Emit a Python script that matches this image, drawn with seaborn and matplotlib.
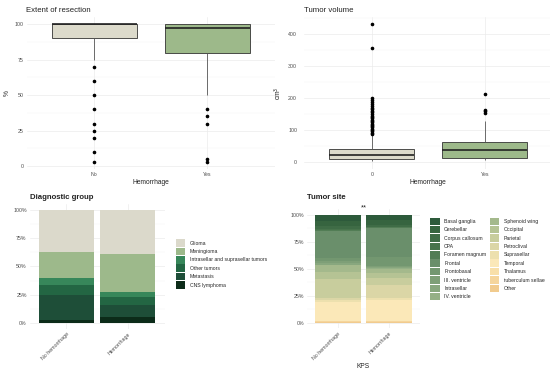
import numpy as np
import pandas as pd
import matplotlib
matplotlib.use("Agg")
import matplotlib.pyplot as plt
import seaborn as sns
from matplotlib.patches import Patch

# ---------------- data ----------------
hem_levels = ["No", "Yes"]
extent_no = [3, 10, 20, 25, 30, 40, 50, 60, 70, 75, 80, 85] + [90] * 10 + [95] * 5 + [100] * 33
extent_yes = [3, 5, 30, 35, 40, 50, 60, 70, 75, 80, 80, 85, 88, 90, 92, 95, 95, 96, 97, 97,
              97, 98, 98, 99, 99] + [100] * 15

vol_levels = ["0", "Yes"]
volume_no = [2, 3, 3, 4, 4, 4, 5, 5, 5, 6, 6, 6, 6, 7, 7, 7, 7, 8, 8, 8, 8, 8, 9, 9, 9, 9, 9,
             9, 9.2, 9.2, 9.3,
             9.5, 10, 10, 11, 11, 12, 12, 12, 13, 13, 14, 14, 14, 15, 15, 16, 16, 16, 17, 17,
             18, 18, 19, 19, 19, 20, 20, 21, 21, 21.8,
             22, 22, 23, 23, 24, 24, 25, 25, 26, 26, 27, 27, 28, 28, 29, 30, 30, 31, 32, 32,
             33, 34, 34, 35, 36, 37, 38, 39, 40, 40.4,
             50, 68, 86, 88, 92, 96, 100, 104, 108, 112, 116, 120, 124, 128, 132, 136, 140,
             145, 150, 155, 160, 165, 170, 176, 182, 188, 194, 200, 355, 430]
volume_yes = [7, 8, 9, 10, 11, 12, 13.5, 17, 22, 26, 30, 34, 38, 42, 46, 50, 54, 58, 62,
              95, 129, 153, 158, 163, 212]

bar_groups = ["No hemorrhage", "Hemorrhage"]
diag_categories = ["Glioma", "Meningioma", "Intrasellar and suprasellar tumors",
                   "Other tumors", "Metastasis", "CNS lymphoma"]
diag_no = [37.4, 23.1, 6.2, 8.8, 21.8, 2.7]
diag_hem = [38.8, 33.6, 4.4, 7.2, 10.5, 5.5]

site_categories = ["Basal ganglia", "Cerebellar", "Corpus callosum", "CPA", "Foramen magnum",
                   "Frontal", "Frontobasal", "III. ventricle", "Intrasellar", "IV. ventricle",
                   "Sphenoid wing", "Occipital", "Parietal", "Petroclival", "Suprasellar",
                   "Temporal", "Thalamus", "tuberculum sellae", "Other"]
site_no = [5.6, 5.2, 2.0, 1.5, 0.5, 25.0, 3.0, 1.5, 2.0, 0.5, 5.7, 7.0, 17.3, 2.0, 1.5,
           17.8, 0.4, 0.5, 1.0]
site_hem = [4.6, 5.2, 1.5, 0.5, 0.3, 26.5, 9.0, 1.0, 0.8, 0.6, 4.0, 4.6, 6.2, 12.4, 1.5,
            19.4, 0.4, 0.5, 1.0]

# ---------------- style ----------------
box_colors = ["#dcdacb", "#9db98a"]
diag_colors = ["#dbd9cb", "#9db98b", "#37875a", "#236643", "#1e4e38", "#0c2b19"]
site_colors = ["#2d5a3b", "#36643f", "#3f6c46", "#48744c", "#527d55", "#6a8f6b", "#739770",
               "#7e9f77", "#88a77e", "#95b086", "#a4b98c", "#b5c394", "#c8cd9d", "#dbd6a6",
               "#ede0ae", "#fbe8b8", "#f8dfa9", "#f5d59c", "#f1cb8e"]

sns.set_theme(style="white")
plt.rcParams["font.family"] = ["Liberation Sans", "DejaVu Sans"]

W, H = 550, 374
fig = plt.figure(figsize=(W / 100, H / 100), dpi=100)


def rect(x0, y0, x1, y1):
    return [x0 / W, 1 - y1 / H, (x1 - x0) / W, (y1 - y0) / H]


TICK = 3.8
LEG = 3.7
AX_T = 4.8
TITLE = 5.6
GRID = "#ebebeb"
TCOL = "#4d4d4d"


def clean(ax, pad=2):
    for s in ax.spines.values():
        s.set_visible(False)
    ax.tick_params(length=0, labelsize=TICK, colors=TCOL, pad=pad, which="both")
    ax.set_axisbelow(True)


def box_panel(ax, values_a, values_b, levels, yticks, yminor, ylim, title, ylabel):
    df = pd.DataFrame({"Hemorrhage": [levels[0]] * len(values_a) + [levels[1]] * len(values_b),
                       "val": list(values_a) + list(values_b)})
    sns.boxplot(data=df, x="Hemorrhage", y="val", hue="Hemorrhage", order=levels,
                hue_order=levels, palette=box_colors, legend=False, width=0.75, saturation=1,
                linecolor="#333333", linewidth=0.6, fliersize=1.6,
                flierprops=dict(marker="o", markerfacecolor="black", markeredgecolor="black"),
                medianprops=dict(linewidth=1.2, color="#222222"),
                whiskerprops=dict(color="#555555", linewidth=0.6),
                capprops=dict(linewidth=0), ax=ax)
    ax.set_xlim(-0.6, 1.6)
    ax.set_ylim(*ylim)
    ax.set_yticks(yticks)
    ax.set_yticks(yminor, minor=True)
    ax.grid(True, which="major", color=GRID, lw=0.5)
    ax.grid(True, which="minor", axis="y", color="#f3f3f3", lw=0.3)
    clean(ax)
    ax.set_xlabel("Hemorrhage", fontsize=AX_T, labelpad=2, color="#222222")
    ax.set_ylabel(ylabel, fontsize=AX_T, labelpad=3, color="#222222")
    ax.set_title(title, loc="left", fontsize=TITLE, pad=3.5, color="#222222")


ax1 = fig.add_axes(rect(26.5, 17.3, 275, 168.8))
box_panel(ax1, extent_no, extent_yes, hem_levels, [0, 25, 50, 75, 100],
          [12.5, 37.5, 62.5, 87.5], (-1.85, 104.85), "Extent of resection", "%")

ax2 = fig.add_axes(rect(304, 17.3, 552.5, 168.8))
box_panel(ax2, volume_no, volume_yes, vol_levels, [0, 100, 200, 300, 400],
          [50, 150, 250, 350, 450], (-21, 451.5), "Tumor volume", "cm$^3$")
ax2.tick_params(axis="y", pad=5)


def stacked_panel(ax, groups, cats, vals_by_group, colors, title, title_pad):
    for i in range(len(cats)):
        heights = [sum(v[i:]) for v in vals_by_group]
        sns.barplot(x=groups, y=heights, order=groups, color=colors[i], width=0.9,
                    saturation=1, linewidth=0, errorbar=None, ax=ax)
    ax.set_xlim(-0.6, 1.6)
    ax.set_ylim(-5, 105)
    ax.set_yticks([0, 25, 50, 75, 100])
    ax.set_yticklabels(["0%", "25%", "50%", "75%", "100%"])
    ax.set_yticks([12.5, 37.5, 62.5, 87.5], minor=True)
    ax.grid(True, which="major", color=GRID, lw=0.5)
    ax.grid(True, which="minor", axis="y", color="#f3f3f3", lw=0.3)
    clean(ax)
    for lab in ax.get_xticklabels():
        lab.set_rotation(45)
        lab.set_ha("right")
        lab.set_va("top")
        lab.set_rotation_mode("anchor")
    ax.set_ylabel("")
    ax.set_title(title, loc="left", fontsize=TITLE, pad=title_pad, color="#222222",
                 fontweight="bold")


ax3 = fig.add_axes(rect(29.5, 204.0, 164.5, 328.7))
stacked_panel(ax3, bar_groups, diag_categories, [diag_no, diag_hem], diag_colors,
              "Diagnostic group", 3.5)
ax3.set_xlabel("")
h3 = [Patch(facecolor=c, edgecolor="none") for c in diag_colors]
fig.legend(h3, diag_categories, loc="upper left", bbox_to_anchor=(175.5 / W, 1 - 239.3 / H),
           frameon=False, fontsize=LEG, handlelength=1.85, handleheight=1.9,
           labelspacing=0.15, handletextpad=0.9, borderpad=0, borderaxespad=0)

ax4 = fig.add_axes(rect(307.4, 209.3, 419.6, 328.4))
stacked_panel(ax4, bar_groups, site_categories, [site_no, site_hem], site_colors,
              "Tumor site", 7.5)
ax4.set_xlabel("KPS", fontsize=AX_T, labelpad=1.5, color="#222222")
ax4.text(0.5, 106.3, "**", ha="center", va="center", fontsize=5.5, clip_on=False,
         color="#222222")
h4 = [Patch(facecolor=c, edgecolor="none") for c in site_colors]
fig.legend(h4, site_categories, loc="upper left", bbox_to_anchor=(430 / W, 1 - 217.5 / H),
           ncol=2, frameon=False, fontsize=LEG, handlelength=1.85, handleheight=1.9,
           labelspacing=0.15, handletextpad=0.9, columnspacing=0.7, borderpad=0,
           borderaxespad=0)

fig.savefig("out.png", dpi=100)
